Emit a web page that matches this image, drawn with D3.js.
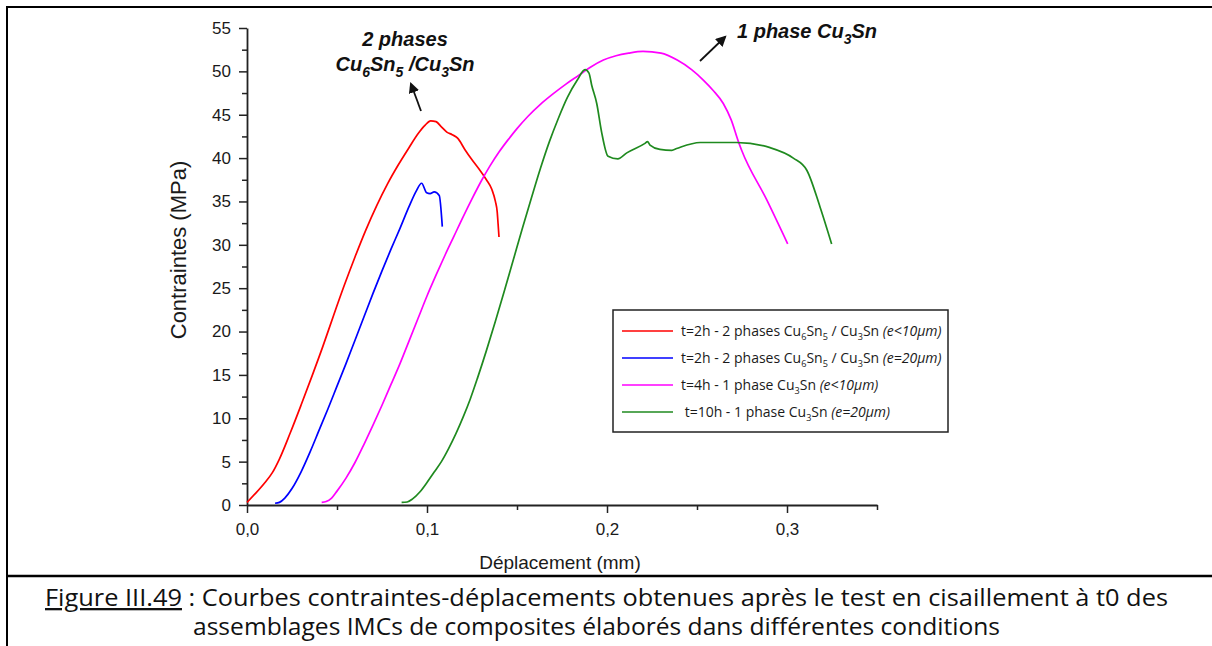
<!DOCTYPE html>
<html>
<head>
<meta charset="utf-8">
<script src="https://cdn.jsdelivr.net/npm/d3@7"></script>
<style>
  body { margin: 0; background: #fff; }
  svg { display: block; }
</style>
</head>
<body>
<div id="chart"></div>
<script>
// displacement (mm), stress (MPa)
var redCurve = [[0,0.3],[0.005,1.4],[0.010,2.6],[0.014,3.7],[0.018,5.3],[0.024,8.3],[0.030,11.5],[0.036,14.8],
  [0.042,18.2],[0.048,21.8],[0.054,25.3],[0.060,28.6],[0.066,31.7],[0.072,34.5],[0.078,37.0],[0.084,39.2],
  [0.090,41.2],[0.095,42.8],[0.099,43.8],[0.102,44.3],[0.105,44.2],[0.108,43.6],[0.111,43.0],[0.114,42.7],
  [0.117,42.3],[0.121,41.0],[0.125,39.8],[0.129,38.7],[0.133,37.5],[0.136,36.4],[0.138,35.0],[0.139,33.8],
  [0.1395,32.4],[0.140,30.9]];
var blueCurve = [[0.0156,0.2],[0.018,0.3],[0.021,0.8],[0.025,1.9],[0.030,3.8],[0.035,6.1],[0.040,8.6],[0.045,11.1],
  [0.050,13.7],[0.055,16.3],[0.060,19.0],[0.065,21.7],[0.070,24.4],[0.075,27.0],[0.080,29.5],[0.085,31.9],
  [0.090,34.4],[0.094,36.2],[0.097,37.1],[0.0998,36.0],[0.1017,35.9],[0.104,36.1],[0.1068,35.7],[0.1085,32.1]];
var pinkCurve = [[0.0415,0.3],[0.044,0.4],[0.047,0.8],[0.050,1.6],[0.055,3.1],[0.060,4.9],[0.065,7.0],[0.070,9.2],
  [0.075,11.5],[0.080,13.9],[0.085,16.3],[0.090,18.9],[0.095,21.5],[0.100,24.1],[0.105,26.5],[0.110,28.8],
  [0.115,31.0],[0.120,33.2],[0.125,35.3],[0.130,37.3],[0.135,39.1],[0.140,40.7],[0.145,42.1],[0.150,43.4],
  [0.156,44.8],[0.163,46.2],[0.170,47.4],[0.177,48.5],[0.184,49.5],[0.191,50.5],[0.198,51.3],[0.205,51.8],
  [0.212,52.1],[0.220,52.3],[0.230,52.1],[0.239,51.3],[0.247,50.2],[0.2535,49.0],[0.259,47.8],[0.2646,46.3],
  [0.269,44.4],[0.273,41.9],[0.2748,40.9],[0.2887,35.2],[0.3004,30.1]];
var greenCurve = [[0.0859,0.3],[0.089,0.35],[0.092,0.7],[0.096,1.5],[0.100,2.6],[0.104,3.8],[0.108,5.0],[0.112,6.5],
  [0.116,8.2],[0.120,10.1],[0.124,12.2],[0.128,14.6],[0.133,17.8],[0.138,21.2],[0.143,24.7],[0.148,28.3],
  [0.153,31.9],[0.158,35.4],[0.163,38.8],[0.168,41.9],[0.173,44.6],[0.178,47.0],[0.1835,49.0],[0.1878,50.2],
  [0.190,49.8],[0.1915,48.4],[0.1943,46.3],[0.197,43.0],[0.2006,40.2],[0.206,39.9],[0.211,40.6],[0.2211,41.7],
  [0.2225,41.9],[0.2239,41.5],[0.2294,41.0],[0.236,40.9],[0.2387,41.1],[0.2517,41.8],[0.272,41.8],[0.2906,41.2],
  [0.3035,40.0],[0.311,38.6],[0.3183,34.4],[0.3248,30.1]];

var xMajor = [0, 0.1, 0.2, 0.3];
var xMinor = [0.05, 0.15, 0.25, 0.35];
var yMajor = d3.range(0, 56, 5);
var yMinor = d3.range(2.5, 55, 5);

var seriesColors = ["#ff0000", "#0000ff", "#ff00ff", "#1f8a1f"];
// legend entries as pieces: [text, 1 = subscript, 2 = italic]
var legendLabels = [
  [["t=2h - 2 phases Cu"], ["6", 1], ["Sn"], ["5", 1], [" / Cu"], ["3", 1], ["Sn "], ["(e<10\u00b5m)", 2]],
  [["t=2h - 2 phases Cu"], ["6", 1], ["Sn"], ["5", 1], [" / Cu"], ["3", 1], ["Sn "], ["(e=20\u00b5m)", 2]],
  [["t=4h - 1 phase Cu"], ["3", 1], ["Sn "], ["(e<10\u00b5m)", 2]],
  [["\u00a0t=10h - 1 phase Cu"], ["3", 1], ["Sn "], ["(e=20\u00b5m)", 2]]
];

var width = 1212, height = 646;
var svg = d3.select("#chart").append("svg")
  .attr("width", width)
  .attr("height", height);

// frame like the word-table cell
svg.append("line").attr("x1", 7).attr("x2", width).attr("y1", 7).attr("y2", 7)
  .attr("stroke", "#000").attr("stroke-width", 2);
svg.append("line").attr("x1", 7).attr("x2", 7).attr("y1", 6).attr("y2", height)
  .attr("stroke", "#000").attr("stroke-width", 2);
svg.append("line").attr("x1", 7).attr("x2", width).attr("y1", 576).attr("y2", 576)
  .attr("stroke", "#000").attr("stroke-width", 2.5);

var x = d3.scaleLinear().domain([0, 0.35]).range([247, 877]);
var y = d3.scaleLinear().domain([0, 55]).range([505, 28]);

var fmt = function(d) { return d3.format(".1f")(d).replace(".", ","); };

// minor ticks first, then major axes on top
svg.append("g").attr("transform", "translate(0,505)")
  .call(d3.axisBottom(x).tickValues(xMinor).tickSize(5).tickFormat(""))
  .call(g => g.select(".domain").remove());
svg.append("g").attr("transform", "translate(247,0)")
  .call(d3.axisLeft(y).tickValues(yMinor).tickSize(5).tickFormat(""))
  .call(g => g.select(".domain").remove());

svg.append("g").attr("transform", "translate(0,505)")
  .call(d3.axisBottom(x).tickValues(xMajor).tickSize(8).tickSizeOuter(0).tickPadding(10).tickFormat(fmt));
svg.append("g").attr("transform", "translate(247,0)")
  .call(d3.axisLeft(y).tickValues(yMajor).tickSize(8).tickSizeOuter(0).tickPadding(8));

svg.selectAll(".tick line").attr("stroke", "#222").attr("stroke-width", 1.5);
svg.selectAll(".domain").attr("stroke", "#222").attr("stroke-width", 1.8);
svg.selectAll(".tick text")
  .style("font-family", "'Liberation Sans', Arial, sans-serif")
  .style("font-size", "17px")
  .attr("fill", "#1a1a1a");

svg.append("text")
  .attr("x", 560).attr("y", 569)
  .attr("text-anchor", "middle")
  .style("font-family", "'Liberation Sans', Arial, sans-serif")
  .style("font-size", "19px")
  .attr("fill", "#1a1a1a")
  .text("D\u00e9placement (mm)");

svg.append("text")
  .attr("transform", "translate(186,250) rotate(-90)")
  .attr("text-anchor", "middle")
  .style("font-family", "'Liberation Sans', Arial, sans-serif")
  .style("font-size", "22px")
  .attr("fill", "#1a1a1a")
  .text("Contraintes (MPa)");

// curves
var line = d3.line()
  .x(d => x(d[0]))
  .y(d => y(d[1]))
  .curve(d3.curveMonotoneX);

[redCurve, blueCurve, pinkCurve, greenCurve].forEach(function(c, i) {
  svg.append("path")
    .datum(c)
    .attr("d", line)
    .attr("fill", "none")
    .attr("stroke", seriesColors[i])
    .attr("stroke-width", 1.7)
    .attr("stroke-linejoin", "round");
});

// text with subscripts / italics; the shift back is put on the next piece
function richText(sel, parts, size, subScale) {
  var shift = size * 0.3, back = 0;
  parts.forEach(function(p) {
    var t = sel.append("tspan").text(p[0]);
    if (p[1] === 1) {
      t.attr("dy", shift + back).style("font-size", (size * subScale) + "px");
      back = -shift;
    } else {
      if (back) t.attr("dy", back);
      back = 0;
      if (p[1] === 2) t.style("font-style", "italic");
    }
  });
}

// legend
var lg = svg.append("g");
lg.append("rect")
  .attr("x", 613).attr("y", 310).attr("width", 335).attr("height", 122)
  .attr("fill", "#fff").attr("stroke", "#222").attr("stroke-width", 1.5);
legendLabels.forEach(function(parts, i) {
  var ry = 331 + i * 27;
  lg.append("line")
    .attr("x1", 622).attr("x2", 673).attr("y1", ry).attr("y2", ry)
    .attr("stroke", seriesColors[i]).attr("stroke-width", 1.7);
  var t = lg.append("text")
    .attr("x", 681).attr("y", ry + 5)
    .style("font-family", "'Open Sans', 'Noto Sans', sans-serif")
    .style("font-size", "14px")
    .attr("fill", "#1a1a1a");
  richText(t, parts, 14, 0.65);
});

// annotations
var ann = svg.append("g")
  .style("font-family", "'Liberation Sans', Arial, sans-serif")
  .style("font-size", "20px")
  .style("font-weight", "bold")
  .style("font-style", "italic")
  .attr("fill", "#111");
ann.append("text").attr("x", 405).attr("y", 46).attr("text-anchor", "middle").text("2 phases");
var a2 = ann.append("text").attr("x", 405).attr("y", 71).attr("text-anchor", "middle");
richText(a2, [["Cu"], ["6", 1], ["Sn"], ["5", 1], [" /Cu"], ["3", 1], ["Sn"]], 20, 0.7);
var a3 = ann.append("text").attr("x", 737).attr("y", 38);
richText(a3, [["1 phase Cu"], ["3", 1], ["Sn"]], 20, 0.7);

svg.append("defs").append("marker")
  .attr("id", "arr")
  .attr("viewBox", "0 0 10 10")
  .attr("refX", 8).attr("refY", 5)
  .attr("markerWidth", 6).attr("markerHeight", 6)
  .attr("orient", "auto")
  .append("path").attr("d", "M0,0 L10,5 L0,10 z").attr("fill", "#111");

svg.append("line").attr("x1", 421).attr("y1", 111).attr("x2", 411).attr("y2", 84)
  .attr("stroke", "#111").attr("stroke-width", 1.8).attr("marker-end", "url(#arr)");
svg.append("line").attr("x1", 700).attr("y1", 61).attr("x2", 725).attr("y2", 37)
  .attr("stroke", "#111").attr("stroke-width", 1.8).attr("marker-end", "url(#arr)");

// caption
var cap = svg.append("g")
  .style("font-family", "'Open Sans', 'Noto Sans', sans-serif")
  .style("font-size", "23px")
  .attr("fill", "#111");
var c1 = cap.append("text").attr("x", 45).attr("y", 606)
  .attr("textLength", 1123).attr("lengthAdjust", "spacingAndGlyphs");
c1.append("tspan").style("text-decoration", "underline").text("Figure III.49");
c1.append("tspan").text(" : Courbes contraintes-d\u00e9placements obtenues apr\u00e8s le test en cisaillement \u00e0 t0 des");
cap.append("text").attr("x", 193).attr("y", 635)
  .attr("textLength", 807).attr("lengthAdjust", "spacingAndGlyphs")
  .text("assemblages IMCs de composites \u00e9labor\u00e9s dans diff\u00e9rentes conditions");
</script>
</body>
</html>
